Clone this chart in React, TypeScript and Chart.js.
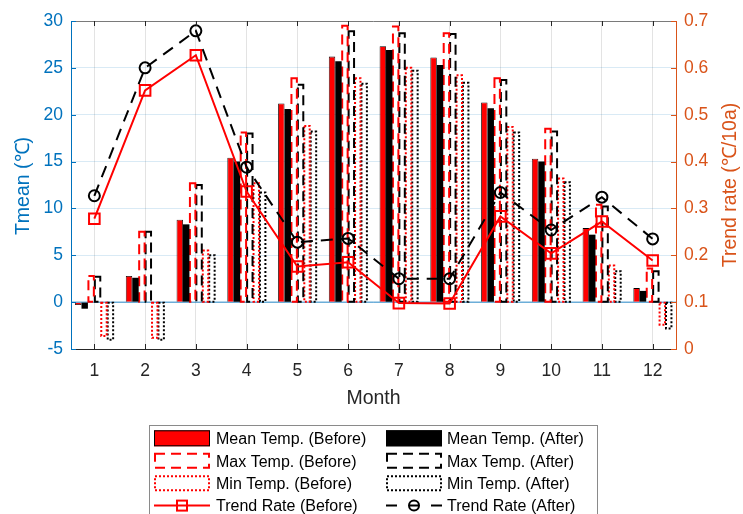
import React, { useEffect, useRef } from 'react';
import { Chart, registerables } from 'chart.js';

Chart.register(...registerables);

const months = [1, 2, 3, 4, 5, 6, 7, 8, 9, 10, 11, 12];
const meanBefore = [-0.3, 2.8, 8.8, 15.4, 21.2, 26.2, 27.3, 26.1, 21.3, 15.3, 7.9, 1.5];
const meanAfter = [-0.7, 2.6, 8.3, 15.0, 20.6, 25.7, 26.9, 25.3, 20.7, 15.0, 7.2, 1.2];
const maxBefore = [2.8, 7.5, 12.7, 18.1, 23.9, 29.5, 29.4, 28.7, 23.9, 18.5, 10.4, 3.6];
const maxAfter = [2.7, 7.5, 12.5, 18.0, 23.2, 28.9, 28.7, 28.6, 23.7, 18.2, 10.2, 3.3];
const minBefore = [-3.6, -3.8, 5.5, 12.7, 18.8, 23.9, 25.0, 24.2, 18.7, 13.2, 3.9, -2.4];
const minAfter = [-4.0, -4.0, 5.0, 11.7, 18.2, 23.3, 24.7, 23.4, 18.1, 12.8, 3.3, -2.8];
const trendBefore = [0.278, 0.552, 0.627, 0.336, 0.176, 0.185, 0.098, 0.097, 0.283, 0.204, 0.272, 0.189];
const trendAfter = [0.327, 0.600, 0.679, 0.388, 0.228, 0.236, 0.150, 0.150, 0.334, 0.254, 0.324, 0.235];
const leftTicks = [-5, 0, 5, 10, 15, 20, 25, 30];
const rightTicks = [0, 0.1, 0.2, 0.3, 0.4, 0.5, 0.6, 0.7];

const seriesNames = {
  meanBefore: 'Mean Temp. (Before)',
  meanAfter: 'Mean Temp. (After)',
  maxBefore: 'Max Temp. (Before)',
  maxAfter: 'Max Temp. (After)',
  minBefore: 'Min Temp. (Before)',
  minAfter: 'Min Temp. (After)',
  trendBefore: 'Trend Rate (Before)',
  trendAfter: 'Trend Rate (After)',
};

const FONT = "'Liberation Sans', Arial, Helvetica, sans-serif";
const BLUE = '#0072BD';
const ORANGE = '#D95319';
const DARK = '#262626';
const RED = '#FF0000';
const DASH = [10, 6];
const DOT = [2, 2];

const pts = (arr: number[]) => arr.map((v, i) => ({ x: months[i], y: v }));

const outlinePlugin = {
  id: 'outlineBars',
  afterDatasetDraw(chart: any, args: any) {
    const ds = chart.data.datasets[args.index];
    if (!ds.outlineColor) return;
    const ctx = chart.ctx;
    ctx.save();
    ctx.strokeStyle = ds.outlineColor;
    ctx.lineWidth = 2;
    ctx.setLineDash(ds.outlineDash);
    args.meta.data.forEach((el: any) => {
      const { x, y, base, width } = el.getProps(['x', 'y', 'base', 'width'], true);
      const top = Math.min(y, base);
      const h = Math.abs(base - y);
      ctx.strokeRect(x - width / 2 + 0.5, top, width - 1, h);
    });
    ctx.restore();
  },
};

const decorPlugin = {
  id: 'decor',
  beforeDatasetsDraw(chart: any) {
    const { ctx, chartArea, scales } = chart;
    const y0 = scales.y.getPixelForValue(0);
    ctx.save();
    ctx.strokeStyle = BLUE;
    ctx.lineWidth = 0.8;
    ctx.beginPath();
    ctx.moveTo(chartArea.left, y0);
    ctx.lineTo(chartArea.right, y0);
    ctx.stroke();
    ctx.restore();
  },
  afterDraw(chart: any) {
    const { ctx, chartArea, scales } = chart;
    const { left, right, top, bottom } = chartArea;
    ctx.save();
    // top box line
    ctx.strokeStyle = '#7a7a7a';
    ctx.lineWidth = 1;
    ctx.beginPath();
    ctx.moveTo(left, top + 0.5);
    ctx.lineTo(right, top + 0.5);
    ctx.stroke();
    // inward ticks
    ctx.strokeStyle = DARK;
    months.forEach((m) => {
      const px = Math.round(scales.x.getPixelForValue(m)) + 0.5;
      ctx.beginPath();
      ctx.moveTo(px, bottom);
      ctx.lineTo(px, bottom - 5);
      ctx.moveTo(px, top);
      ctx.lineTo(px, top + 5);
      ctx.stroke();
    });
    ctx.strokeStyle = BLUE;
    leftTicks.forEach((v) => {
      const py = Math.round(scales.y.getPixelForValue(v)) + 0.5;
      ctx.beginPath();
      ctx.moveTo(left, py);
      ctx.lineTo(left + 5, py);
      ctx.stroke();
    });
    ctx.strokeStyle = ORANGE;
    rightTicks.forEach((v) => {
      const py = Math.round(scales.y1.getPixelForValue(v)) + 0.5;
      ctx.beginPath();
      ctx.moveTo(right, py);
      ctx.lineTo(right - 5, py);
      ctx.stroke();
    });

    // axis titles
    ctx.textAlign = 'center';
    ctx.textBaseline = 'middle';
    ctx.font = `19.5px ${FONT}`;
    ctx.fillStyle = BLUE;
    ctx.save();
    ctx.translate(24, (top + bottom) / 2 + 1);
    ctx.rotate(-Math.PI / 2);
    ctx.fillText('Tmean (℃)', 0, 0);
    ctx.restore();
    ctx.fillStyle = ORANGE;
    ctx.save();
    ctx.translate(731, (top + bottom) / 2);
    ctx.rotate(-Math.PI / 2);
    ctx.fillText('Trend rate (℃/10a)', 0, 0);
    ctx.restore();
    ctx.fillStyle = DARK;
    ctx.textBaseline = 'alphabetic';
    ctx.fillText('Month', (left + right) / 2, 404);

    // legend
    const lx = 149.5, ly = 425.5, lw = 448;
    ctx.strokeStyle = '#8a8a8a';
    ctx.lineWidth = 1;
    ctx.setLineDash([]);
    ctx.strokeRect(lx, ly, lw, 120);

    const rows = [438.3, 460.8, 483.2, 505.6];
    const cols = [
      { sx: 154, tx: 216, color: RED, names: [seriesNames.meanBefore, seriesNames.maxBefore, seriesNames.minBefore, seriesNames.trendBefore], before: true },
      { sx: 386, tx: 447, color: '#000000', names: [seriesNames.meanAfter, seriesNames.maxAfter, seriesNames.minAfter, seriesNames.trendAfter], before: false },
    ];
    ctx.font = `16px ${FONT}`;
    ctx.textAlign = 'left';
    ctx.textBaseline = 'alphabetic';
    cols.forEach((c) => {
      rows.forEach((cy, r) => {
        ctx.save();
        const x0 = c.sx, w = 56, y0 = cy - 8, h = 16;
        if (r === 0) {
          ctx.fillStyle = c.color;
          ctx.fillRect(x0, y0, w, h);
          ctx.strokeStyle = '#000';
          ctx.lineWidth = 1;
          ctx.strokeRect(x0 + 0.5, y0 + 0.5, w - 1, h - 1);
        } else if (r === 1 || r === 2) {
          ctx.strokeStyle = c.color;
          ctx.lineWidth = 2;
          ctx.setLineDash(r === 1 ? DASH : DOT);
          ctx.strokeRect(x0 + 1, y0 + 1, w - 2, h - 2);
        } else {
          ctx.strokeStyle = c.color;
          ctx.lineWidth = 2;
          if (c.before) {
            ctx.beginPath();
            ctx.moveTo(x0, cy);
            ctx.lineTo(x0 + w, cy);
            ctx.stroke();
            ctx.strokeRect(x0 + w / 2 - 5, cy - 5, 10, 10);
          } else {
            ctx.beginPath();
            ctx.moveTo(x0, cy); ctx.lineTo(x0 + 11, cy);
            ctx.moveTo(x0 + 23, cy); ctx.lineTo(x0 + 33, cy);
            ctx.moveTo(x0 + 45, cy); ctx.lineTo(x0 + w, cy);
            ctx.stroke();
            ctx.beginPath();
            ctx.arc(x0 + w / 2, cy, 5, 0, Math.PI * 2);
            ctx.stroke();
          }
        }
        ctx.restore();
        ctx.fillStyle = '#000';
        ctx.fillText(c.names[r], c.tx, cy + 5.8);
      });
    });
    ctx.restore();
  },
};

export default function App() {
  const ref = useRef<HTMLCanvasElement | null>(null);
  useEffect(() => {
    document.body.style.margin = '0';
    const ctx = ref.current!.getContext('2d')!;
    const barCommon = { yAxisID: 'y', order: 1, categoryPercentage: 0.76, barPercentage: 1.0 };
    const chart = new Chart(ctx, {
      type: 'bar',
      data: {
        datasets: [
          { ...barCommon, label: seriesNames.meanBefore, data: pts(meanBefore), backgroundColor: RED, borderColor: '#000', borderWidth: 0.8 } as any,
          { ...barCommon, label: seriesNames.meanAfter, data: pts(meanAfter), backgroundColor: '#000', borderColor: '#000', borderWidth: 0 } as any,
          { ...barCommon, label: seriesNames.maxBefore, data: pts(maxBefore), backgroundColor: 'rgba(0,0,0,0)', borderWidth: 0, outlineColor: RED, outlineDash: DASH } as any,
          { ...barCommon, label: seriesNames.maxAfter, data: pts(maxAfter), backgroundColor: 'rgba(0,0,0,0)', borderWidth: 0, outlineColor: '#000', outlineDash: DASH } as any,
          { ...barCommon, label: seriesNames.minBefore, data: pts(minBefore), backgroundColor: 'rgba(0,0,0,0)', borderWidth: 0, outlineColor: RED, outlineDash: DOT } as any,
          { ...barCommon, label: seriesNames.minAfter, data: pts(minAfter), backgroundColor: 'rgba(0,0,0,0)', borderWidth: 0, outlineColor: '#000', outlineDash: DOT } as any,
          {
            type: 'line', label: seriesNames.trendAfter, data: pts(trendAfter), yAxisID: 'y1', order: 0,
            borderColor: '#000', borderWidth: 2, borderDash: [12, 8], pointStyle: 'circle', pointRadius: 5.5,
            pointBorderColor: '#000', pointBorderWidth: 2, pointBackgroundColor: 'rgba(0,0,0,0)', tension: 0,
          } as any,
          {
            type: 'line', label: seriesNames.trendBefore, data: pts(trendBefore), yAxisID: 'y1', order: 0,
            borderColor: RED, borderWidth: 2, pointStyle: 'rect', pointRadius: 7.5,
            pointBorderColor: RED, pointBorderWidth: 2, pointBackgroundColor: 'rgba(0,0,0,0)', tension: 0,
          } as any,
        ],
      },
      options: {
        animation: false,
        responsive: true,
        maintainAspectRatio: false,
        layout: { padding: { top: 21, left: 0, right: 0, bottom: 0 } },
        plugins: { legend: { display: false }, tooltip: { enabled: false } },
        events: [],
        scales: {
          x: {
            type: 'linear',
            min: 0.54,
            max: 12.46,
            offset: false,
            afterBuildTicks: (s: any) => { s.ticks = months.map((v) => ({ value: v })); },
            afterFit: (s: any) => { s.height = 165; },
            grid: { color: 'rgba(38,38,38,0.13)', drawTicks: false, offset: false },
            border: { display: true, color: DARK, width: 1 },
            ticks: { color: DARK, font: { family: FONT, size: 17.5 }, padding: 11.5, maxRotation: 0, autoSkip: false, callback: (v: any) => String(v) },
          },
          y: {
            type: 'linear',
            position: 'left',
            min: -5,
            max: 30,
            afterBuildTicks: (s: any) => { s.ticks = leftTicks.map((v) => ({ value: v })); },
            afterFit: (s: any) => { s.width = 71; },
            grid: { color: 'rgba(0,114,189,0.15)', drawTicks: false },
            border: { display: true, color: BLUE, width: 1 },
            ticks: { color: BLUE, font: { family: FONT, size: 17.5 }, padding: 8, callback: (v: any) => String(v) },
          },
          y1: {
            type: 'linear',
            position: 'right',
            min: 0,
            max: 0.7,
            afterBuildTicks: (s: any) => { s.ticks = rightTicks.map((v) => ({ value: v })); },
            afterFit: (s: any) => { s.width = 67; },
            grid: { drawOnChartArea: false, drawTicks: false },
            border: { display: true, color: ORANGE, width: 1 },
            ticks: { color: ORANGE, font: { family: FONT, size: 17.5 }, padding: 8, callback: (v: any) => (v === 0 ? '0' : Number(v).toFixed(1)) },
          },
        },
      } as any,
      plugins: [outlinePlugin, decorPlugin],
    });
    return () => chart.destroy();
  }, []);
  return (
    <div style={{ position: 'fixed', left: 0, top: 0, width: 743, height: 514, background: '#fff' }}>
      <canvas ref={ref} />
    </div>
  );
}
